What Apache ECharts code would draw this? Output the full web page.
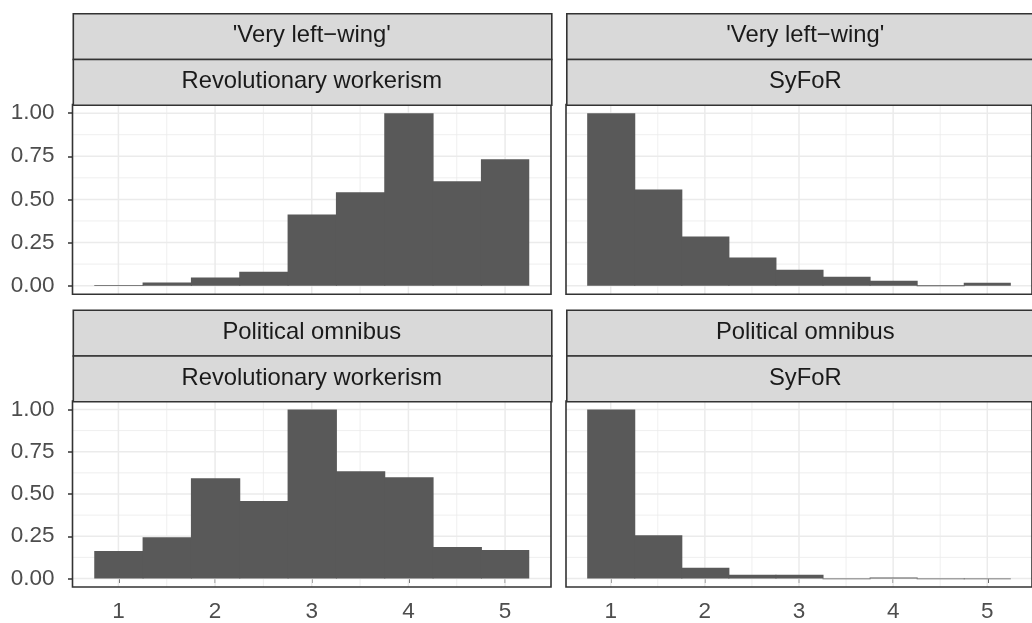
<!DOCTYPE html>
<html>
<head>
<meta charset="utf-8">
<script src="https://cdn.jsdelivr.net/npm/echarts@6/dist/echarts.min.js"></script>
<style>
html,body{margin:0;padding:0;background:#fff;}
#chart{width:1032px;height:623px;}
</style>
</head>
<body>
<div id="chart"></div>
<script>
// ---------- data ----------
const binCenters = [1, 1.5, 2, 2.5, 3, 3.5, 4, 4.5, 5];
const binWidth = 0.5;
const rowLabels = ["'Very left\u2212wing'", "Political omnibus"];
const colLabels = ["Revolutionary workerism", "SyFoR"];
const veryLeftRevolutionary = [0.003, 0.019, 0.047, 0.081, 0.413, 0.541, 1.0, 0.605, 0.733];
const veryLeftSyFoR = [1.0, 0.558, 0.285, 0.163, 0.093, 0.052, 0.029, 0.002, 0.017];
const omnibusRevolutionary = [0.163, 0.244, 0.593, 0.459, 1.0, 0.634, 0.599, 0.186, 0.169];
const omnibusSyFoR = [1.0, 0.256, 0.064, 0.023, 0.023, 0.001, 0.006, 0.001, 0.001];
const xTicks = [1, 2, 3, 4, 5];
const xMinor = [1.5, 2.5, 3.5, 4.5];
const yTicks = [0, 0.25, 0.5, 0.75, 1.0];
const yMinor = [0.125, 0.375, 0.625, 0.875];

// ---------- layout ----------
const X_MIN = 0.525, X_MAX = 5.475, Y_MIN = -0.05, Y_MAX = 1.05;
const LEFTS = [72.5, 566];
const TOPS = [104.5, 401];
const PW = 478.5, PH = 189.8;
const SH = 45.8;
const FONT = '"Liberation Sans", Arial, Helvetica, sans-serif';
const BORDER = '#333333';
const BAR = '#595959';

const panels = [
  {row: 0, col: 0, values: veryLeftRevolutionary},
  {row: 0, col: 1, values: veryLeftSyFoR},
  {row: 1, col: 0, values: omnibusRevolutionary},
  {row: 1, col: 1, values: omnibusSyFoR}
];

const grids = [], xAxes = [], yAxes = [], series = [], graphics = [];

panels.forEach((p, i) => {
  const left = LEFTS[p.col], top = TOPS[p.row];
  grids.push({left: left, top: top, width: PW, height: PH, show: true,
    borderColor: BORDER, borderWidth: 1.6, backgroundColor: 'transparent', z: 10, containLabel: false});
  const showX = p.row === 1, showY = p.col === 0;
  xAxes.push({type: 'value', gridIndex: i, min: X_MIN, max: X_MAX,
    axisLine: {show: false}, splitLine: {show: false}, minorSplitLine: {show: false},
    axisTick: {show: showX, customValues: xTicks, length: 4.5, lineStyle: {color: BORDER, width: 1.5}},
    axisLabel: {show: showX, customValues: xTicks, margin: 13, color: '#4d4d4d', fontSize: 22.5, fontFamily: FONT,
      formatter: v => String(v)}
  });
  yAxes.push({type: 'value', gridIndex: i, min: Y_MIN, max: Y_MAX,
    axisLine: {show: false}, splitLine: {show: false}, minorSplitLine: {show: false},
    axisTick: {show: showY, customValues: yTicks, length: 4.5, lineStyle: {color: BORDER, width: 1.5}},
    axisLabel: {show: showY, customValues: yTicks, margin: 18, color: '#4d4d4d', fontSize: 22.5, fontFamily: FONT,
      formatter: v => v.toFixed(2)}
  });

  // grid lines (drawn through the axes' own scales)
  const gl = [];
  xTicks.forEach(v => gl.push([v, 0]));
  xMinor.forEach(v => gl.push([v, 1]));
  yTicks.forEach(v => gl.push([v, 2]));
  yMinor.forEach(v => gl.push([v, 3]));
  series.push({type: 'custom', xAxisIndex: i, yAxisIndex: i, silent: true, z: 1,
    data: gl,
    renderItem: (params, api) => {
      const v = api.value(0), k = api.value(1);
      const cs = params.coordSys;
      const w = (k === 0 || k === 2) ? 1.5 : 0.8;
      let shape;
      if (k < 2) {
        const x = api.coord([v, 0])[0];
        shape = {x1: x, y1: cs.y, x2: x, y2: cs.y + cs.height};
      } else {
        const y = api.coord([1, v])[1];
        shape = {x1: cs.x, y1: y, x2: cs.x + cs.width, y2: y};
      }
      return {type: 'line', shape: shape, style: {stroke: '#ebebeb', lineWidth: w}};
    }
  });

  // histogram bars
  const n = binCenters.length;
  series.push({type: 'custom', xAxisIndex: i, yAxisIndex: i, z: 3,
    data: binCenters.map((c, j) => [c, p.values[j]]),
    renderItem: (params, api) => {
      const c = api.value(0), v = api.value(1);
      const a = api.coord([c - binWidth / 2, v]);
      const b = api.coord([c + binWidth / 2, 0]);
      const overlap = params.dataIndex < n - 1 ? 1 : 0; // avoid anti-alias seams between adjacent bins
      return {type: 'rect',
        shape: {x: a[0], y: a[1], width: b[0] - a[0] + overlap, height: Math.max(b[1] - a[1], 0.8)},
        style: {fill: BAR}};
    }
  });

  // facet strips
  const stripTexts = [rowLabels[p.row], colLabels[p.col]];
  stripTexts.forEach((t, s) => {
    const sy = top - SH * (2 - s);
    graphics.push({type: 'rect', left: left, top: sy, z: 20,
      shape: {x: 0, y: 0, width: PW, height: SH},
      style: {fill: '#d9d9d9', stroke: BORDER, lineWidth: 1.6}});
    graphics.push({type: 'text', x: left + PW / 2, y: sy + SH / 2, z: 21,
      style: {text: t, fill: '#1a1a1a', font: '23.8px ' + FONT, textAlign: 'center', textVerticalAlign: 'middle'}});
  });
});

const chart = echarts.init(document.getElementById('chart'), null, {renderer: 'canvas'});
chart.setOption({
  animation: false,
  backgroundColor: '#ffffff',
  grid: grids,
  xAxis: xAxes,
  yAxis: yAxes,
  series: series,
  graphic: graphics
});
</script>
</body>
</html>
